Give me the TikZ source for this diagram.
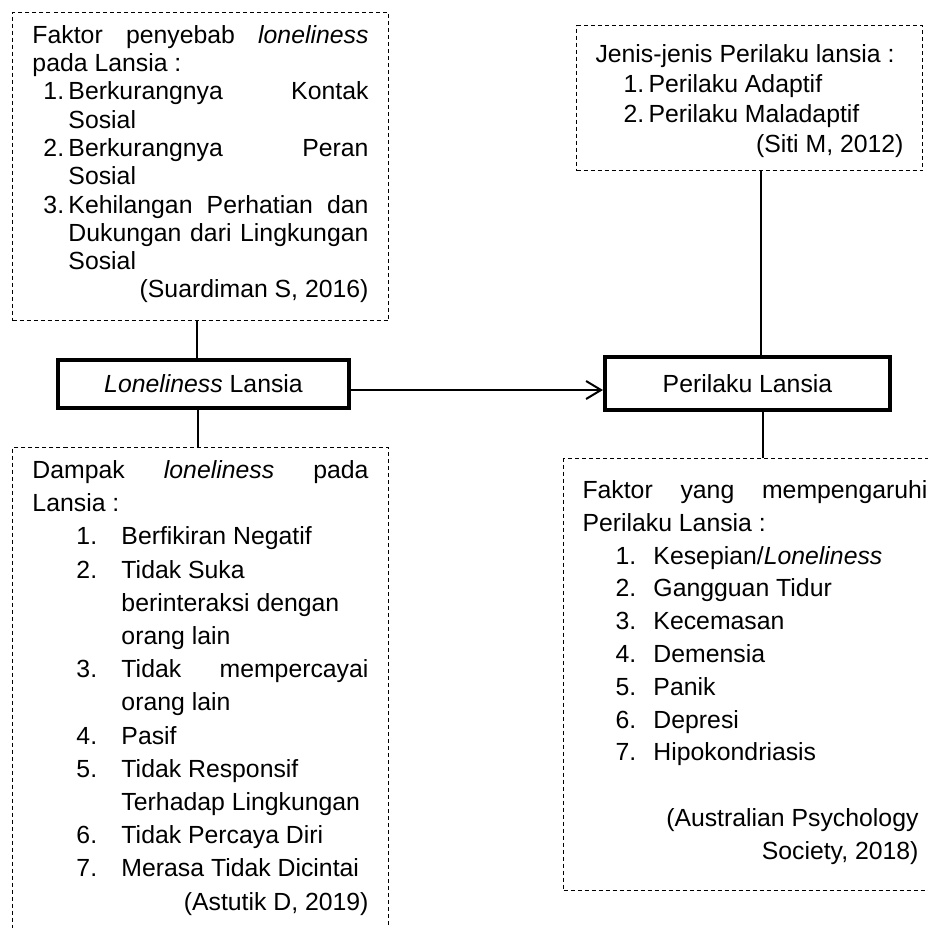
\documentclass[tikz,border=0pt]{standalone}
\usepackage{fontspec}
\setmainfont[Ligatures=NoCommon]{Liberation Sans}
\usetikzlibrary{arrows.meta,positioning}
\newcommand{\jline}[1]{\makebox[\linewidth][s]{#1}}
\newcommand{\rline}[1]{\makebox[\linewidth][r]{#1}}
\newcommand{\numitem}[4]{\hspace*{#1}\makebox[#2][l]{#3}#4}

\begin{document}
\begin{tikzpicture}[x=0.5pt,y=-0.5pt,>={Straight Barb[length=7.5pt,width=9pt]}]
    \tikzset{note/.style={draw,line width=0.5pt,dash pattern=on 2pt off 1.5pt,anchor=north west,inner xsep=10pt,inner ysep=0pt},
      main/.style={draw,line width=2pt,inner sep=0pt,font=\fontsize{12.4}{14.9}\selectfont},
      link/.style={line width=1pt}}
    \useasboundingbox (0,0) rectangle (928,928);
    \node[note,font=\fontsize{12.4}{14.15}\selectfont] (cause) at (12,12) {\parbox[c][154pt][t]{168pt}{%
      \rule{0pt}{15.35pt}\jline{Faktor penyebab \textit{loneliness}}\\
      pada Lansia :\\
      \numitem{5.5pt}{12.5pt}{1.}{\makebox[\dimexpr\linewidth-18pt\relax][s]{Berkurangnya Kontak}}\\
      \hspace*{18pt}Sosial\\
      \numitem{5.5pt}{12.5pt}{2.}{\makebox[\dimexpr\linewidth-18pt\relax][s]{Berkurangnya Peran}}\\
      \hspace*{18pt}Sosial\\
      \numitem{5.5pt}{12.5pt}{3.}{\makebox[\dimexpr\linewidth-18pt\relax][s]{Kehilangan Perhatian dan}}\\
      \hspace*{18pt}\makebox[\dimexpr\linewidth-18pt\relax][s]{Dukungan dari Lingkungan}\\
      \hspace*{18pt}Sosial\\
      \rline{(Suardiman S, 2016)}}};
    \node[note,font=\fontsize{12.4}{15}\selectfont,inner xsep=9.5pt] (types) at (576,25) {\parbox[c][72.5pt][t]{154pt}{%
      \rule{0pt}{18.5pt}Jenis-jenis Perilaku lansia :\\
      \numitem{14pt}{12.5pt}{1.}{Perilaku Adaptif}\\
      \numitem{14pt}{12.5pt}{2.}{Perilaku Maladaptif}\\
      \rline{(Siti M, 2012)}}};
    \node[main,minimum width=145.5pt,minimum height=24pt] (lone) at (203.5,384) {\textit{Loneliness} Lansia};
    \node[main,minimum width=142.5pt,minimum height=26.5pt] (behav) at (747.5,383.5) {Perilaku Lansia};
    \node[note,font=\fontsize{12.4}{16.6}\selectfont] (impact) at (12,447) {\parbox[c][250pt][t]{168pt}{%
      \rule{0pt}{15.5pt}\jline{Dampak \textit{loneliness} pada}\\
      Lansia :\\
      \numitem{22pt}{22.5pt}{1.}{Berfikiran Negatif}\\
      \numitem{22pt}{22.5pt}{2.}{Tidak Suka}\\
      \hspace*{44.5pt}berinteraksi dengan\\
      \hspace*{44.5pt}orang lain\\
      \numitem{22pt}{22.5pt}{3.}{\makebox[\dimexpr\linewidth-44.5pt\relax][s]{Tidak mempercayai}}\\
      \hspace*{44.5pt}orang lain\\
      \numitem{22pt}{22.5pt}{4.}{Pasif}\\
      \numitem{22pt}{22.5pt}{5.}{Tidak Responsif}\\
      \hspace*{44.5pt}Terhadap Lingkungan\\
      \numitem{22pt}{22.5pt}{6.}{Tidak Percaya Diri}\\
      \numitem{22pt}{22.5pt}{7.}{Merasa Tidak Dicintai}\\
      \rline{(Astutik D, 2019)}}};
    \node[note,font=\fontsize{12.4}{16.4}\selectfont,inner xsep=9.5pt] (factor) at (563,458) {\parbox[c][216pt][t]{172.5pt}{%
      \rule{0pt}{20pt}\jline{Faktor yang mempengaruhi}\\
      Perilaku Lansia :\\
      \numitem{16.5pt}{19pt}{1.}{Kesepian/\textit{Loneliness}}\\
      \numitem{16.5pt}{19pt}{2.}{Gangguan Tidur}\\
      \numitem{16.5pt}{19pt}{3.}{Kecemasan}\\
      \numitem{16.5pt}{19pt}{4.}{Demensia}\\
      \numitem{16.5pt}{19pt}{5.}{Panik}\\
      \numitem{16.5pt}{19pt}{6.}{Depresi}\\
      \numitem{16.5pt}{19pt}{7.}{Hipokondriasis}\\
      \mbox{}\\
      \rline{(Australian Psychology\hspace*{4.5pt}}\\
      \rline{Society, 2018)\hspace*{4.5pt}}}};
    \draw[link,transform canvas={xshift=-3.5pt}] (lone.north) -- (lone.north |- cause.south);
    \draw[link,transform canvas={xshift=-3pt}] (lone.south) -- (lone.south |- impact.north);
    \draw[link,transform canvas={xshift=6.5pt}] (behav.north) -- (behav.north |- types.south);
    \draw[link,transform canvas={xshift=7.5pt}] (behav.south) -- (behav.south |- factor.north);
    \draw[link,->,transform canvas={yshift=-3pt}] (lone.east) -- (lone.east -| behav.west);
  \end{tikzpicture}
\end{document}
